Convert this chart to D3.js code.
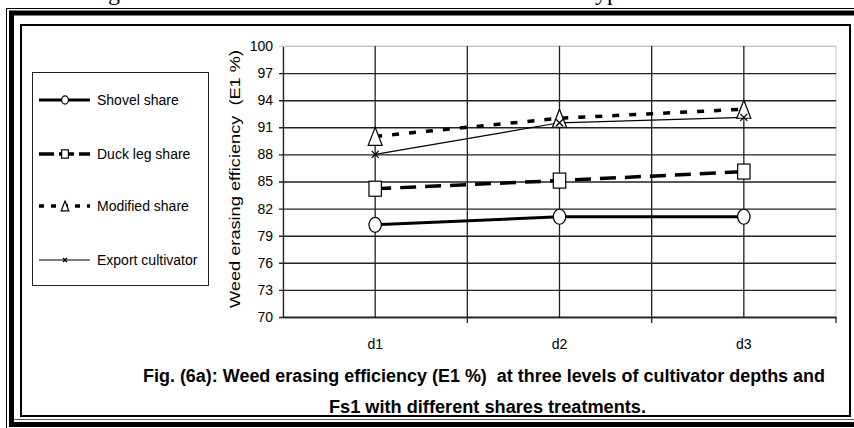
<!DOCTYPE html>
<html>
<head>
<meta charset="utf-8">
<script src="https://cdn.jsdelivr.net/npm/d3@7"></script>
<style>
  body { margin: 0; background: #fff; }
  svg { display: block; }
  text { font-family: "Liberation Sans", Arial, sans-serif; fill: #000; white-space: pre; }
</style>
</head>
<body>
<div id="chart"></div>
<script>
// Chart values
var categories = ["d1", "d2", "d3"];
var shovel = [80.2, 81.1, 81.1];
var duckLeg = [84.2, 85.1, 86.1];
var modified = [90.0, 92.0, 93.0];
var exportCult = [88.0, 91.5, 92.1];
var seriesNames = ["Shovel share", "Duck leg share", "Modified share", "Export cultivator"];
var yTicks = [70, 73, 76, 79, 82, 85, 88, 91, 94, 97, 100];
var caption1 = "Fig. (6a): Weed erasing efficiency (E1 %)  at three levels of cultivator depths and";
var caption2 = "Fs1 with different shares treatments.";
var yLabel = "Weed erasing efficiency  (E1 %)";

var width = 854, height = 428;

var svg = d3.select('#chart')
            .append('svg')
            .attr('width', width)
            .attr('height', height);

// clipped line of page text above the figure
svg.append('text').attr('x', 108).attr('y', 0)
   .style('font-family', '"Liberation Serif", "Times New Roman", serif')
   .style('font-size', '24px').text('g');
svg.append('text').attr('x', 595).attr('y', 0)
   .style('font-family', '"Liberation Serif", "Times New Roman", serif')
   .style('font-size', '24px').text('yp');

// page frame (thin + thick double border)
svg.append('line').attr('x1', 6.5).attr('y1', 8.5).attr('x2', 6.5).attr('y2', height)
   .attr('stroke', '#000').attr('stroke-width', 1);
svg.append('line').attr('x1', 6).attr('y1', 8.5).attr('x2', width).attr('y2', 8.5)
   .attr('stroke', '#000').attr('stroke-width', 1);
svg.append('path')
   .attr('d', 'M' + (width + 5) + ',13 L11.5,13 L11.5,424.5 L' + (width + 5) + ',424.5')
   .attr('fill', 'none').attr('stroke', '#000').attr('stroke-width', 5);
svg.append('line').attr('x1', 14).attr('y1', 419.5).attr('x2', width).attr('y2', 419.5)
   .attr('stroke', '#555').attr('stroke-width', 1);

// chart box
svg.append('rect').attr('x', 21).attr('y', 25).attr('width', 829).attr('height', 391)
   .attr('fill', '#fff').attr('stroke', '#000').attr('stroke-width', 2);

var plot = { left: 283, right: 836, top: 46, bottom: 317 };

var x = d3.scaleBand()
          .domain(categories)
          .range([plot.left, plot.right]);

var y = d3.scaleLinear()
          .domain([70, 100])
          .range([plot.bottom, plot.top]);

function cx(d) { return x(d) + x.bandwidth() / 2; }

var g = svg.append('g');

// plot border (light)
g.append('rect').attr('x', plot.left).attr('y', plot.top)
 .attr('width', plot.right - plot.left).attr('height', plot.bottom - plot.top)
 .attr('fill', 'none').attr('stroke', '#c8c8c8').attr('stroke-width', 1);

// horizontal gridlines
var y_axis = d3.axisLeft(y)
               .tickValues(yTicks)
               .tickSizeInner(-(plot.right - plot.left))
               .tickSizeOuter(0)
               .tickPadding(10)
               .tickFormat(d3.format('d'));

var yg = g.append('g')
          .attr('transform', 'translate(' + plot.left + ',0)')
          .call(y_axis);
yg.select('.domain').attr('stroke', '#222').attr('stroke-width', 1.3);
yg.selectAll('.tick line').attr('stroke', '#222').attr('stroke-width', 1.4)
  .attr('x1', -4);
yg.selectAll('.tick').filter(function(d) { return d === 100; }).select('line')
  .attr('stroke', '#c8c8c8').attr('stroke-width', 1);
yg.selectAll('.tick text')
  .style('font-family', '"Liberation Sans", Arial, sans-serif')
  .style('font-size', '14px').attr('fill', '#000');

// vertical gridlines at category centres and band boundaries
var vLines = categories.map(cx).concat(categories.slice(1).map(function(c) { return x(c); }));
g.selectAll('.vgrid').data(vLines).enter().append('line')
 .attr('class', 'vgrid')
 .attr('x1', function(d) { return d; }).attr('x2', function(d) { return d; })
 .attr('y1', plot.top).attr('y2', plot.bottom)
 .attr('stroke', '#222').attr('stroke-width', 1.3);

// x axis
var x_axis = d3.axisBottom(x).tickSize(0).tickPadding(22);
var xg = g.append('g')
          .attr('transform', 'translate(0,' + plot.bottom + ')')
          .call(x_axis);
xg.select('.domain').attr('stroke', '#222').attr('stroke-width', 1.3);
xg.selectAll('.tick text')
  .style('font-family', '"Liberation Sans", Arial, sans-serif')
  .style('font-size', '14px').attr('fill', '#000');
var bounds = categories.slice(1).map(function(c) { return x(c); }).concat([plot.right]);
xg.selectAll('.xtick').data(bounds).enter().append('line')
  .attr('x1', function(d) { return d; }).attr('x2', function(d) { return d; })
  .attr('y1', 0).attr('y2', 6)
  .attr('stroke', '#222').attr('stroke-width', 1.3);

// y label
svg.append('text')
   .attr('transform', 'translate(240,179) rotate(-90)')
   .attr('text-anchor', 'middle')
   .attr('textLength', 258)
   .attr('lengthAdjust', 'spacingAndGlyphs')
   .style('font-size', '14px')
   .text(yLabel);

// series definitions
var series = [
  { name: seriesNames[0], values: shovel, width: 3, dash: null, marker: 'circle' },
  { name: seriesNames[1], values: duckLeg, width: 3.5, dash: '16,9', marker: 'square' },
  { name: seriesNames[2], values: modified, width: 3.5, dash: '7,10', marker: 'triangle' },
  { name: seriesNames[3], values: exportCult, width: 1.2, dash: null, marker: 'cross' }
];
var legendDash = [null, '15,5', '5,7', null];

var line = d3.line()
             .x(function(d) { return cx(d.cat); })
             .y(function(d) { return y(d.v); });

function drawMarker(sel, type, px, py, s) {
  if (type === 'circle') {
    sel.append('ellipse').attr('cx', px).attr('cy', py)
       .attr('rx', 6.2 * s).attr('ry', 7.5 * s)
       .attr('fill', '#fff').attr('stroke', '#000').attr('stroke-width', 1.2);
  } else if (type === 'square') {
    sel.append('rect').attr('x', px - 6.2 * s).attr('y', py - 7.5 * s)
       .attr('width', 12.4 * s).attr('height', 15 * s)
       .attr('fill', '#fff').attr('stroke', '#000').attr('stroke-width', 1.2);
  } else if (type === 'triangle') {
    var w = 7 * s, h = 9 * s;
    sel.append('path')
       .attr('d', 'M' + px + ',' + (py - h) + 'L' + (px + w) + ',' + (py + h) +
                  'L' + (px - w) + ',' + (py + h) + 'Z')
       .attr('fill', '#fff').attr('stroke', '#000').attr('stroke-width', 1.2);
  } else if (type === 'cross') {
    var c = 3.5 * s;
    sel.append('path')
       .attr('d', 'M' + (px - c) + ',' + (py - c) + 'L' + (px + c) + ',' + (py + c) +
                  'M' + (px - c) + ',' + (py + c) + 'L' + (px + c) + ',' + (py - c))
       .attr('fill', 'none').attr('stroke', '#000').attr('stroke-width', 1.3);
  }
}

var lines = g.append('g');
var marks = g.append('g');
series.forEach(function(s) {
  var pts = s.values.map(function(v, i) { return { cat: categories[i], v: v }; });
  lines.append('path')
       .datum(pts)
       .attr('d', line)
       .attr('fill', 'none')
       .attr('stroke', '#000')
       .attr('stroke-width', s.width)
       .attr('stroke-dasharray', s.dash);
});
series.forEach(function(s) {
  s.values.forEach(function(v, i) {
    drawMarker(marks, s.marker, cx(categories[i]), y(v), 1);
  });
});

// legend
var legend = svg.append('g');
legend.append('rect').attr('x', 32.5).attr('y', 72.5).attr('width', 176).attr('height', 213)
      .attr('fill', '#fff').attr('stroke', '#222').attr('stroke-width', 1);
var legendY = [100, 154, 206, 260];
series.forEach(function(s, i) {
  var ly = legendY[i];
  legend.append('line').attr('x1', 39).attr('x2', 90).attr('y1', ly).attr('y2', ly)
        .attr('stroke', '#000').attr('stroke-width', s.width)
        .attr('stroke-dasharray', legendDash[i]);
  drawMarker(legend, s.marker, 65, ly, 0.55);
  legend.append('text').attr('x', 97).attr('y', ly + 5)
        .style('font-size', '14px').text(s.name);
});

// caption
svg.append('text').attr('x', 143).attr('y', 382)
   .attr('textLength', 682).attr('lengthAdjust', 'spacingAndGlyphs')
   .style('font-size', '18px').style('font-weight', 'bold')
   .text(caption1);
svg.append('text').attr('x', 329).attr('y', 413)
   .attr('textLength', 317).attr('lengthAdjust', 'spacingAndGlyphs')
   .style('font-size', '18px').style('font-weight', 'bold')
   .text(caption2);
</script>
</body>
</html>
